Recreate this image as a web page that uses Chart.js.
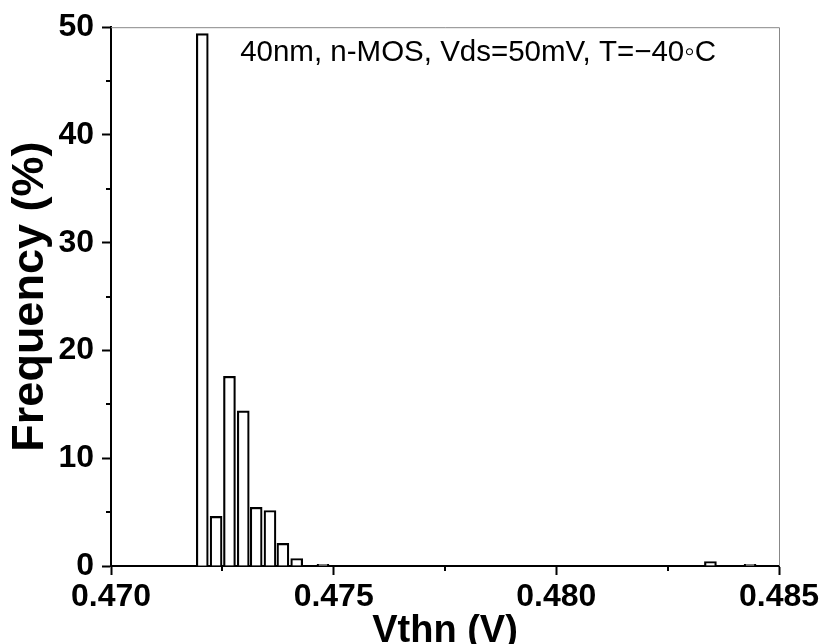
<!DOCTYPE html>
<html>
<head>
<meta charset="utf-8">
<script src="https://cdn.jsdelivr.net/npm/chart.js@4"></script>
<style>
  html, body { margin: 0; padding: 0; background: #fff; }
  #wrap { width: 823px; height: 644px; }
</style>
</head>
<body>
<div id="wrap"><canvas id="chart"></canvas></div>
<script>
// histogram bins (bin centre, V) and frequency (%)
const binCenters = [0.47205, 0.47236, 0.47266, 0.47297, 0.47326, 0.47357, 0.47386, 0.47417, 0.47476, 0.48346, 0.48435];
const frequency = [49.4, 4.6, 17.6, 14.4, 5.45, 5.15, 2.1, 0.7, 0.15, 0.4, 0.15];

const xTicks = [0.470, 0.475, 0.480, 0.485];
const xMinorTicks = [0.4725, 0.4775, 0.4825];
const yTicks = [0, 10, 20, 30, 40, 50];
const yMinorTicks = [5, 15, 25, 35, 45];

const note = "40nm, n-MOS, Vds=50mV, T=\u221240\u25E6C";

const FONT = "'Liberation Sans', Arial, sans-serif";

// frame + minor ticks + annotation
const extras = {
    id: 'extras',
    beforeDatasetsDraw(chart) {
        const a = chart.chartArea;
        const ctx = chart.ctx;
        ctx.save();
        ctx.strokeStyle = '#888';
        ctx.lineWidth = 1;
        ctx.beginPath();
        ctx.moveTo(a.left, a.top + 0.5);
        ctx.lineTo(a.right + 0.5, a.top + 0.5);
        ctx.lineTo(a.right + 0.5, a.bottom);
        ctx.stroke();
        ctx.restore();
    },
    afterDraw(chart) {
        const ctx = chart.ctx;
        const xs = chart.scales.x, ys = chart.scales.y;
        const a = chart.chartArea;
        ctx.save();
        ctx.strokeStyle = '#000';
        ctx.lineWidth = 2;
        ctx.beginPath();
        xMinorTicks.forEach(v => {
            const px = Math.round(xs.getPixelForValue(v));
            ctx.moveTo(px, a.bottom);
            ctx.lineTo(px, a.bottom + 5);
        });
        yMinorTicks.forEach(v => {
            const py = Math.round(ys.getPixelForValue(v));
            ctx.moveTo(a.left, py);
            ctx.lineTo(a.left - 5, py);
        });
        ctx.stroke();

        ctx.fillStyle = '#000';
        ctx.font = '29.5px ' + FONT;
        ctx.textBaseline = 'alphabetic';
        ctx.textAlign = 'left';
        ctx.fillText(note, xs.getPixelForValue(0.4729), ys.getPixelForValue(46.9));
        ctx.restore();
    }
};

new Chart(document.getElementById('chart'), {
    type: 'bar',
    data: {
        datasets: [{
            data: binCenters.map((x, i) => ({x: x, y: frequency[i]})),
            backgroundColor: '#fff',
            borderColor: '#000',
            borderWidth: 2.2,
            borderSkipped: 'bottom',
            barThickness: 12
        }]
    },
    options: {
        responsive: true,
        maintainAspectRatio: false,
        animation: false,
        events: [],
        layout: {
            padding: {left: 0, right: 44, top: 22, bottom: 0}
        },
        plugins: {
            legend: {display: false},
            tooltip: {enabled: false}
        },
        scales: {
            x: {
                type: 'linear',
                min: 0.470,
                max: 0.485,
                offset: false,
                afterBuildTicks: s => { s.ticks = xTicks.map(v => ({value: v})); },
                afterFit: s => { s.height = 78; },
                grid: {
                    offset: false,
                    drawOnChartArea: false,
                    drawTicks: true,
                    tickLength: 9,
                    tickWidth: 2,
                    tickColor: '#000'
                },
                border: {display: true, color: '#000', width: 2},
                ticks: {
                    color: '#000',
                    padding: 3,
                    maxRotation: 0,
                    autoSkip: false,
                    font: {family: FONT, size: 32, weight: 'bold'},
                    callback: v => v.toFixed(3)
                },
                title: {
                    display: true,
                    text: 'Vthn (V)',
                    color: '#000',
                    padding: {top: 0, bottom: -10},
                    font: {family: FONT, size: 38, weight: 'bold'}
                }
            },
            y: {
                min: 0,
                max: 50,
                afterBuildTicks: s => { s.ticks = yTicks.map(v => ({value: v})); },
                afterFit: s => { s.width = 111; },
                grid: {
                    drawOnChartArea: false,
                    drawTicks: true,
                    tickLength: 9,
                    tickWidth: 2,
                    tickColor: '#000'
                },
                border: {display: true, color: '#000', width: 2},
                ticks: {
                    color: '#000',
                    padding: 8,
                    autoSkip: false,
                    font: {family: FONT, size: 32, weight: 'bold'}
                },
                title: {
                    display: true,
                    text: 'Frequency (%)',
                    color: '#000',
                    padding: {top: 4, bottom: 0},
                    font: {family: FONT, size: 45, weight: 'bold'}
                }
            }
        }
    },
    plugins: [extras]
});
</script>
</body>
</html>
